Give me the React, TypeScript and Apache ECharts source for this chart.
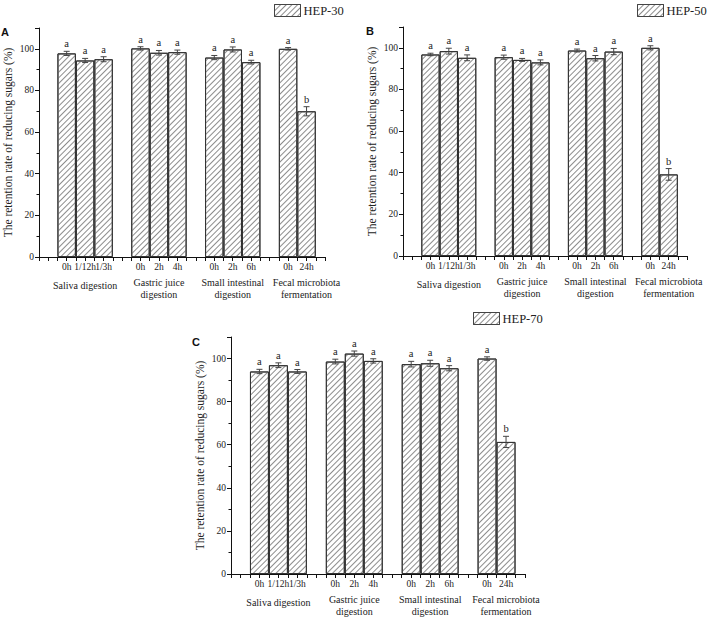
import React, { useEffect, useRef } from 'react';
import * as echarts from 'echarts';

// ---------- data ----------
const groupNames = [['Saliva digestion'], ['Gastric juice', 'digestion'], ['Small intestinal', 'digestion'], ['Fecal microbiota', 'fermentation']];
const groupTimes = [['0h', '1/12h', '1/3h'], ['0h', '2h', '4h'], ['0h', '2h', '6h'], ['0h', '24h']];
const groupLabelIndex = [1, 1, 1, 1];

const seriesNames = ['HEP-30', 'HEP-50', 'HEP-70'];
const panelLetters = ['A', 'B', 'C'];

const hep30 = [97.8, 94.4, 95.0, 100.2, 98.1, 98.4, 95.8, 99.7, 93.6, 100.0, 70.0];
const hep30Err = [1.0, 1.0, 1.2, 0.8, 1.1, 1.0, 1.0, 1.2, 0.9, 0.6, 2.2];
const hep30Sig = ['a', 'a', 'a', 'a', 'a', 'a', 'a', 'a', 'a', 'a', 'b'];

const hep50 = [96.8, 98.4, 95.2, 95.5, 94.2, 93.0, 98.7, 95.0, 98.2, 100.0, 39.2];
const hep50Err = [0.6, 1.4, 1.4, 1.0, 0.7, 1.2, 0.7, 1.3, 1.5, 1.0, 2.8];
const hep50Sig = ['a', 'a', 'a', 'a', 'a', 'a', 'a', 'a', 'a', 'a', 'b'];

const hep70 = [94.0, 96.9, 94.0, 98.6, 102.3, 98.9, 97.4, 97.8, 95.5, 100.0, 61.3];
const hep70Err = [1.0, 1.1, 0.9, 1.1, 1.2, 1.0, 1.3, 1.4, 1.2, 0.8, 2.6];
const hep70Sig = ['a', 'a', 'a', 'a', 'a', 'a', 'a', 'a', 'a', 'a', 'b'];

const yTicks = { min: 0, max: 110, interval: 20 };
const yTitle = 'The retention rate of reducing sugars (%)';

// ---------- layout (style) ----------
const SERIF = '"Liberation Serif", "Times New Roman", serif';
const panels = [
  { grid: { left: 39, top: 28, width: 286, height: 229 }, legend: { left: 274, top: 4 }, title: { left: 1, top: 26 } },
  { grid: { left: 403, top: 27, width: 284, height: 229 }, legend: { left: 637, top: 4 }, title: { left: 366, top: 25 } },
  { grid: { left: 231, top: 337, width: 294, height: 237 }, legend: { left: 473, top: 312 }, title: { left: 192, top: 336 } },
];
const valuesList = [hep30, hep50, hep70];
const errList = [hep30Err, hep50Err, hep70Err];
const sigList = [hep30Sig, hep50Sig, hep70Sig];

// slot positions derived from category structure (one empty slot before and between groups)
const positions: number[] = [];
const labelMap: Record<string, string> = {};
{
  let slot = 1;
  groupTimes.forEach((times, gi) => {
    times.forEach((t, ti) => {
      const x = slot + 0.5;
      positions.push(x);
      let lab = `{t|${t}}`;
      if (ti === groupLabelIndex[gi]) {
        const names = groupNames[gi];
        if (names.length === 1) lab += `\n{g1|${names[0]}}`;
        else lab += '\n' + names.map((n) => `{g|${n}}`).join('\n');
      }
      labelMap[x.toFixed(1)] = lab;
      slot += 1;
    });
    slot += 1;
  });
}
const X_MAX = 15.5;

const decal = {
  symbol: 'rect',
  symbolSize: 1,
  color: '#8c8c8c',
  dashArrayX: [1, 0],
  dashArrayY: [1, 2.2],
  rotation: -Math.PI / 4,
};

export default function App() {
  const ref = useRef<HTMLDivElement>(null);
  useEffect(() => {
    if (!ref.current) return;
    const chart = echarts.init(ref.current, undefined, { renderer: 'svg' });
    const grid: any[] = [];
    const xAxis: any[] = [];
    const yAxis: any[] = [];
    const series: any[] = [];
    const legend: any[] = [];
    const title: any[] = [];
    panels.forEach((p, i) => {
      grid.push({ ...p.grid, containLabel: false });
      xAxis.push({
        type: 'value', gridIndex: i, min: 0, max: X_MAX, interval: 0.5,
        axisLine: { show: true, lineStyle: { color: '#111', width: 1 } },
        axisTick: { show: true, length: 4, lineStyle: { color: '#111' } },
        splitLine: { show: false },
        axisLabel: {
          margin: 1, color: '#222', fontFamily: SERIF,
          formatter: (v: number) => labelMap[v.toFixed(1)] || '',
          rich: {
            t: { fontSize: 9.5, lineHeight: 18, fontFamily: SERIF, color: '#222' },
            g: { fontSize: 10, lineHeight: 12.5, fontFamily: SERIF, color: '#222' },
            g1: { fontSize: 10, lineHeight: 19, fontFamily: SERIF, color: '#222' },
          },
        },
      });
      yAxis.push({
        type: 'value', gridIndex: i, min: yTicks.min, max: yTicks.max, interval: yTicks.interval,
        name: yTitle, nameLocation: 'middle', nameGap: 25,
        nameTextStyle: { fontFamily: SERIF, fontSize: 11.5, color: '#222' },
        axisLine: { show: true, lineStyle: { color: '#111', width: 1 } },
        axisTick: { show: true, length: 4, lineStyle: { color: '#111' } },
        minorTick: { show: true, splitNumber: 2, length: 2.5, lineStyle: { color: '#111' } },
        splitLine: { show: false },
        axisLabel: { showMaxLabel: false, fontFamily: SERIF, fontSize: 9.5, color: '#222', margin: 5 },
      });
      const vals = valuesList[i];
      const errs = errList[i];
      const sig = sigList[i];
      series.push({
        type: 'bar', name: seriesNames[i], xAxisIndex: i, yAxisIndex: i,
        barWidth: p.grid.width / X_MAX,
        data: vals.map((v, k) => [positions[k], v]),
        itemStyle: { color: '#ffffff', borderColor: '#333', borderWidth: 1, decal },
        z: 2,
      });
      series.push({
        type: 'custom', name: seriesNames[i] + '-err', xAxisIndex: i, yAxisIndex: i,
        data: vals.map((v, k) => [positions[k], v, errs[k]]),
        encode: { x: 0, y: 1 },
        z: 5,
        renderItem: (params: any, api: any) => {
          const x = api.value(0);
          const y = api.value(1);
          const e = api.value(2);
          const top = api.coord([x, y + e]);
          const bot = api.coord([x, y - e]);
          const hw = 3;
          const style = { stroke: '#444', lineWidth: 1 };
          return {
            type: 'group',
            children: [
              { type: 'line', shape: { x1: top[0], y1: top[1], x2: bot[0], y2: bot[1] }, style },
              { type: 'line', shape: { x1: top[0] - hw, y1: top[1], x2: top[0] + hw, y2: top[1] }, style },
              { type: 'line', shape: { x1: bot[0] - hw, y1: bot[1], x2: bot[0] + hw, y2: bot[1] }, style },
              {
                type: 'text', x: top[0], y: top[1] - 2,
                style: { text: sig[params.dataIndex], fill: '#222', font: `10.5px ${SERIF}`, align: 'center', verticalAlign: 'bottom' },
              },
            ],
          };
        },
      });
      legend.push({
        data: [seriesNames[i]], left: p.legend.left, top: p.legend.top, padding: 0,
        icon: 'rect', itemWidth: 26, itemHeight: 12, selectedMode: false,
        itemStyle: { borderColor: '#444', borderWidth: 1 },
        textStyle: { fontFamily: SERIF, fontSize: 12.5, color: '#222', padding: [0, 0, 0, -2] },
      });
      title.push({
        text: panelLetters[i], left: p.title.left, top: p.title.top, padding: 0,
        textStyle: { fontFamily: '"Liberation Sans", Arial, sans-serif', fontWeight: 'bold', fontSize: 11, color: '#111' },
      });
    });
    chart.setOption({
      animation: false,
      backgroundColor: '#ffffff',
      title, legend, grid, xAxis, yAxis, series,
    });
    return () => chart.dispose();
  }, []);
  return <div ref={ref} style={{ position: 'absolute', left: 0, top: 0, width: 708, height: 620 }} />;
}
